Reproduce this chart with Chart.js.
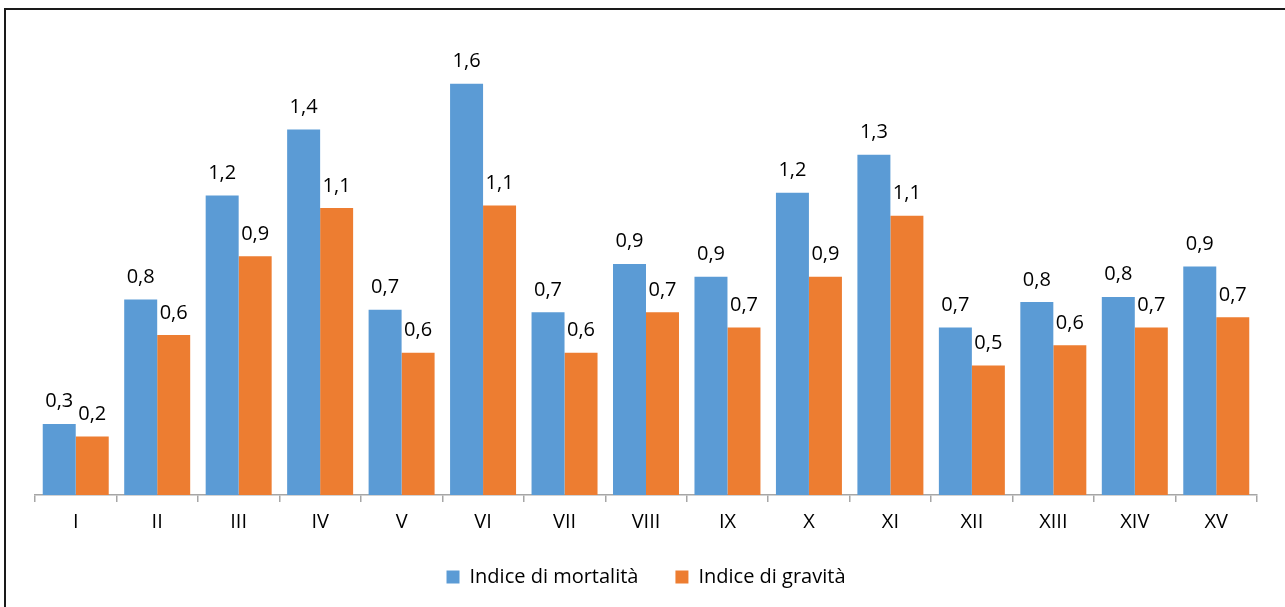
<!DOCTYPE html>
<html>
<head>
<meta charset="utf-8">
<script src="https://cdn.jsdelivr.net/npm/chart.js@4"></script>
<style>
  html, body { margin: 0; padding: 0; background: #fff; overflow: hidden; }
  #wrap { position: relative; width: 1285px; height: 607px; overflow: hidden; }
  #frame { position: absolute; left: 4px; top: 8px; width: 2000px; height: 2000px;
           border-left: 2px solid #1a1a1a; border-top: 2px solid #1a1a1a; }
  #chart { position: absolute; left: 0; top: 2px; }
</style>
</head>
<body>
<div id="wrap">
  <div id="frame"></div>
  <canvas id="chart" width="1285" height="607"></canvas>
</div>
<script>
// categories and series
const categories = ['I', 'II', 'III', 'IV', 'V', 'VI', 'VII', 'VIII', 'IX', 'X', 'XI', 'XII', 'XIII', 'XIV', 'XV'];
const mortalita = [0.28, 0.77, 1.18, 1.44, 0.73, 1.62, 0.72, 0.91, 0.86, 1.19, 1.34, 0.66, 0.76, 0.78, 0.90];
const gravita   = [0.23, 0.63, 0.94, 1.13, 0.56, 1.14, 0.56, 0.72, 0.66, 0.86, 1.10, 0.51, 0.59, 0.66, 0.70];

const FONT = '"Open Sans", "Noto Sans", sans-serif';

// value labels above each bar, Italian decimal comma
const valueLabels = {
  id: 'valueLabels',
  afterDatasetsDraw(chart) {
    const { ctx } = chart;
    ctx.save();
    ctx.font = '20px ' + FONT;
    ctx.fillStyle = '#000';
    ctx.textAlign = 'center';
    ctx.textBaseline = 'alphabetic';
    chart.data.datasets.forEach((ds, i) => {
      chart.getDatasetMeta(i).data.forEach((bar, j) => {
        ctx.fillText(ds.data[j].toFixed(1).replace('.', ','), bar.x, bar.y - 16.5);
      });
    });
    ctx.restore();
  }
};

// pull the legend a bit closer to the axis (its padding also sets the item gap)
const legendNudge = {
  id: 'legendNudge',
  afterLayout(chart) {
    chart.legend.top -= 12;
    chart.legend.bottom -= 12;
  }
};

new Chart(document.getElementById('chart'), {
  type: 'bar',
  data: {
    labels: categories,
    datasets: [
      { label: 'Indice di mortalità', data: mortalita, backgroundColor: '#5B9BD5' },
      { label: 'Indice di gravità', data: gravita, backgroundColor: '#ED7D31' }
    ]
  },
  options: {
    responsive: false,
    animation: false,
    devicePixelRatio: 1,
    categoryPercentage: 0.81,
    barPercentage: 1,
    layout: { padding: { left: 35, right: 28, top: 36, bottom: 0 } },
    plugins: {
      legend: {
        position: 'bottom',
        labels: {
          boxWidth: 13,
          boxHeight: 13,
          padding: 37,
          color: '#000',
          font: { family: FONT, size: 20 }
        }
      },
      tooltip: { enabled: false }
    },
    scales: {
      y: { display: false, min: 0, max: 1.8 },
      x: {
        offset: true,
        grid: {
          offset: true,
          drawOnChartArea: false,
          drawTicks: true,
          tickLength: 7,
          color: '#a6a6a6',
          lineWidth: 1.5
        },
        border: { color: '#a6a6a6', width: 1.5 },
        ticks: {
          color: '#000',
          padding: 8,
          font: { family: FONT, size: 20 }
        }
      }
    }
  },
  plugins: [valueLabels, legendNudge]
});
</script>
</body>
</html>
